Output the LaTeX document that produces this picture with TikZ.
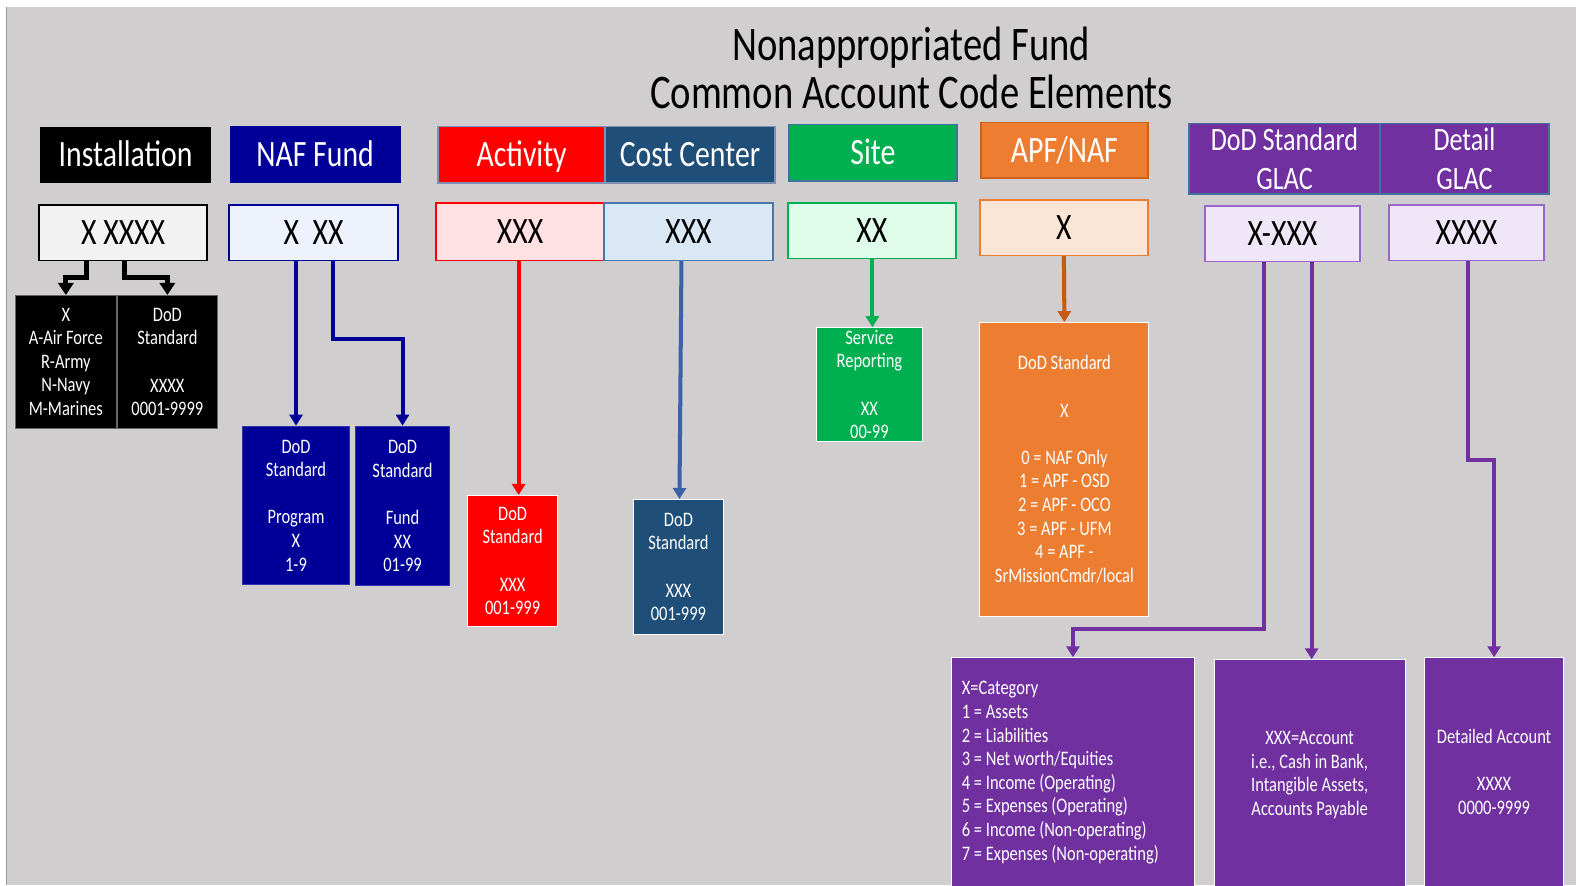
\documentclass[tikz,border=0pt]{standalone}
\usepackage{fontspec}
\setmainfont{Carlito}[FakeStretch=0.8]
\usetikzlibrary{arrows.meta}
\definecolor{bg}{HTML}{D0CECE}
\definecolor{navy}{HTML}{000099}
\definecolor{costblue}{HTML}{1F4E79}
\definecolor{grn}{HTML}{00B050}
\definecolor{orng}{HTML}{ED7D31}
\definecolor{orngD}{HTML}{C55A11}
\definecolor{purp}{HTML}{7030A0}
\definecolor{slate}{HTML}{7F92B5}
\definecolor{teal}{HTML}{41719C}
\definecolor{ccarrow}{HTML}{3A62A7}
\definecolor{codegray}{HTML}{F2F2F2}
\definecolor{nafcode}{HTML}{EDF2FC}
\definecolor{actcode}{HTML}{FFE1E3}
\definecolor{cccode}{HTML}{DAE8F5}
\definecolor{sitecode}{HTML}{DEFCE9}
\definecolor{apfcode}{HTML}{FBE5D6}
\definecolor{glaccode}{HTML}{EFE7F7}
\definecolor{glacline}{HTML}{9966CC}
\definecolor{ccline}{HTML}{4A76A8}
\begin{document}
\begin{tikzpicture}[x=1pt,y=-1pt,
  box/.style={rectangle, inner sep=0pt, align=center},
  hdr/.style={box, text=white, font=\fontsize{37}{44}\selectfont, text height=24pt, text depth=0pt},
  hdrtwo/.style={box, text=white, font=\fontsize{32.5}{38}\selectfont},
  codebox/.style={box, text=black, font=\fontsize{37}{44}\selectfont, text height=24pt, text depth=0pt, line width=1.5pt},
  det/.style={box, text=white, font=\fontsize{20.5}{23.5}\selectfont, draw=white, line width=1pt},
  bottombox/.style={det, fill=purp, anchor=north, text depth=150pt},
  arr/.style={-{Triangle[width=13pt,length=11pt]}, line width=4pt},
  titlefont/.style={font=\fontsize{48}{48}\selectfont, text=black, anchor=base, inner sep=0pt}
]
% background
\fill[white] (0,0) rectangle (1568,880);
\fill[bg] (7,7) rectangle (1568,880);
\draw[color=black!40, line width=1.5pt] (6.5,7) -- (6.5,880);
\useasboundingbox (0,0) rectangle (1568,880);

% title
\node[titlefont] (title1) at (906.5,60) {Nonappropriated Fund};
\node[titlefont] (title2) at (907,108) {Common Account Code Elements};

% headers
\node[hdr, fill=black, minimum width=170pt, minimum height=56pt] (insth) at (125,154) {Installation};
\node[hdr, fill=navy, draw=navy, line width=1pt, minimum width=169pt, minimum height=56pt] (nafh) at (313.5,154) {NAF Fund};
\node[hdr, fill=red, draw=slate, line width=1.5pt, minimum width=166pt, minimum height=56pt] (acth) at (519,154) {Activity};
\node[hdr, fill=costblue, draw=slate, line width=1.5pt, minimum width=169pt, minimum height=56pt] (cch) at (686.5,154) {Cost Center};
\node[hdr, fill=grn, draw=teal, line width=1.5pt, minimum width=167pt, minimum height=56pt] (siteh) at (868.5,152) {Site};
\node[hdr, fill=orng, draw=orngD!80!orng, line width=1.5pt, minimum width=166pt, minimum height=55pt] (apfh) at (1059,149.5) {APF/NAF};
\node[hdrtwo, fill=purp, draw=teal, line width=1.5pt, minimum width=190pt, minimum height=70pt] (glach) at (1278,158) {DoD Standard\\GLAC};
\node[hdrtwo, fill=purp, draw=teal, line width=1.5pt, minimum width=168pt, minimum height=70pt] (deth) at (1457,158) {Detail\\GLAC};

% code boxes
\node[codebox, fill=codegray, draw=black, minimum width=167pt, minimum height=55pt] (instc) at (122.5,231.5) {X XXXX};
\node[codebox, fill=nafcode, draw=navy, minimum width=168pt, minimum height=55pt] (nafc) at (312,231.5) {X\ \ XX};
\node[codebox, fill=actcode, draw=red, minimum width=167pt, minimum height=57pt] (actc) at (517.5,230.5) {XXX};
\node[codebox, fill=cccode, draw=ccline, minimum width=168pt, minimum height=57pt] (ccc) at (685,230.5) {XXX};
\node[codebox, fill=sitecode, draw=grn, minimum width=167pt, minimum height=55pt] (sitec) at (867.5,229.5) {XX};
\node[codebox, fill=apfcode, draw=orng, minimum width=167pt, minimum height=55pt] (apfc) at (1058.5,226.5) {X};
\node[codebox, fill=glaccode, draw=glacline, minimum width=154pt, minimum height=55pt] (glacc) at (1276,232.5) {X-XXX};
\node[codebox, fill=glaccode, draw=glacline, minimum width=154pt, minimum height=55pt] (detc) at (1459,231.5) {XXXX};

% detail boxes
\node[det, fill=black, draw=black!60, minimum width=101pt, minimum height=132pt] (instL) at (65.5,360) {X\\A-Air Force\\R-Army\\N-Navy\\M-Marines};
\node[det, fill=black, draw=black!60, minimum width=99pt, minimum height=132pt] (instR) at (166.5,360) {DoD\\Standard\\\mbox{}\\XXXX\\0001-9999};
\node[det, fill=navy, draw=navy!80!white, minimum width=107pt, minimum height=158pt] (nafL) at (294.5,503) {DoD\\Standard\\\mbox{}\\Program\\X\\1-9};
\node[det, fill=navy, draw=navy!80!white, minimum width=93pt, minimum height=159pt] (nafR) at (400.5,503.5) {DoD\\Standard\\\mbox{}\\Fund\\XX\\01-99};
\node[det, fill=red, minimum width=90pt, minimum height=130pt] (actD) at (510,558) {DoD\\Standard\\\mbox{}\\XXX\\001-999};
\node[det, fill=costblue, minimum width=90pt, minimum height=134pt] (ccD) at (675,564) {DoD\\Standard\\\mbox{}\\XXX\\001-999};
\node[det, fill=grn, minimum width=106pt, minimum height=113pt] (siteD) at (865,382.5) {Service\\Reporting\\\mbox{}\\XX\\00-99};
\node[det, fill=orng, minimum width=168pt, minimum height=292pt] (apfD) at (1059,467) {DoD Standard\\\mbox{}\\X\\\mbox{}\\0 = NAF Only\\1 = APF - OSD\\2 = APF - OCO\\3 = APF - UFM\\4 = APF -\\SrMissionCmdr/local};
\node[bottombox, align=flush left, text width=221pt, inner xsep=10pt, inner ysep=23.5pt, text depth=240pt] (p1) at (1067.5,654) {X=Category\\1 = Assets\\2 = Liabilities\\3 = Net worth/Equities\\4 = Income (Operating)\\5 = Expenses (Operating)\\6 = Income (Non-operating)\\7 = Expenses (Non-operating)};
\node[bottombox, minimum width=190pt, inner ysep=71pt] (p2) at (1303,656) {XXX=Account\\i.e., Cash in Bank,\\Intangible Assets,\\Accounts Payable};
\node[bottombox, minimum width=139pt, inner ysep=71pt] (p3) at (1486.5,654) {Detailed Account\\\mbox{}\\XXXX\\0000-9999};

% connectors
\draw[arr, line width=5pt, -{Triangle[width=15pt,length=12pt]}] ([xshift=-36.5pt]instc.south) -- ++(0,16) -| (instL.north);
\draw[arr, line width=5pt, -{Triangle[width=15pt,length=12pt]}] ([xshift=1.5pt]instc.south) -- ++(0,16) -| (instR.north);
\draw[arr, navy] (nafc.south -| nafL.north) -- (nafL.north);
\draw[arr, navy] ([xshift=19pt]nafc.south) -- ++(0,78) -| (nafR.north);
\draw[arr, red] ([xshift=-1.5pt]actc.south) -- ([xshift=6pt]actD.north);
\draw[arr, ccarrow] ([xshift=-7pt]ccc.south) -- ([xshift=1pt]ccD.north);
\draw[arr, grn] ([xshift=0.5pt]sitec.south) -- ([xshift=3pt]siteD.north);
\draw[arr, orngD] (apfc.south) -- (apfD.north);
\draw[arr, purp] ([xshift=-18pt]glacc.south) -- ++(0,365) -| (p1.north);
\draw[arr, purp] ([xshift=29pt]glacc.south) -- ([xshift=2pt]p2.north);
\draw[arr, purp] ([xshift=2pt]detc.south) -- ++(0,198) -| (p3.north);
\end{tikzpicture}
\end{document}
